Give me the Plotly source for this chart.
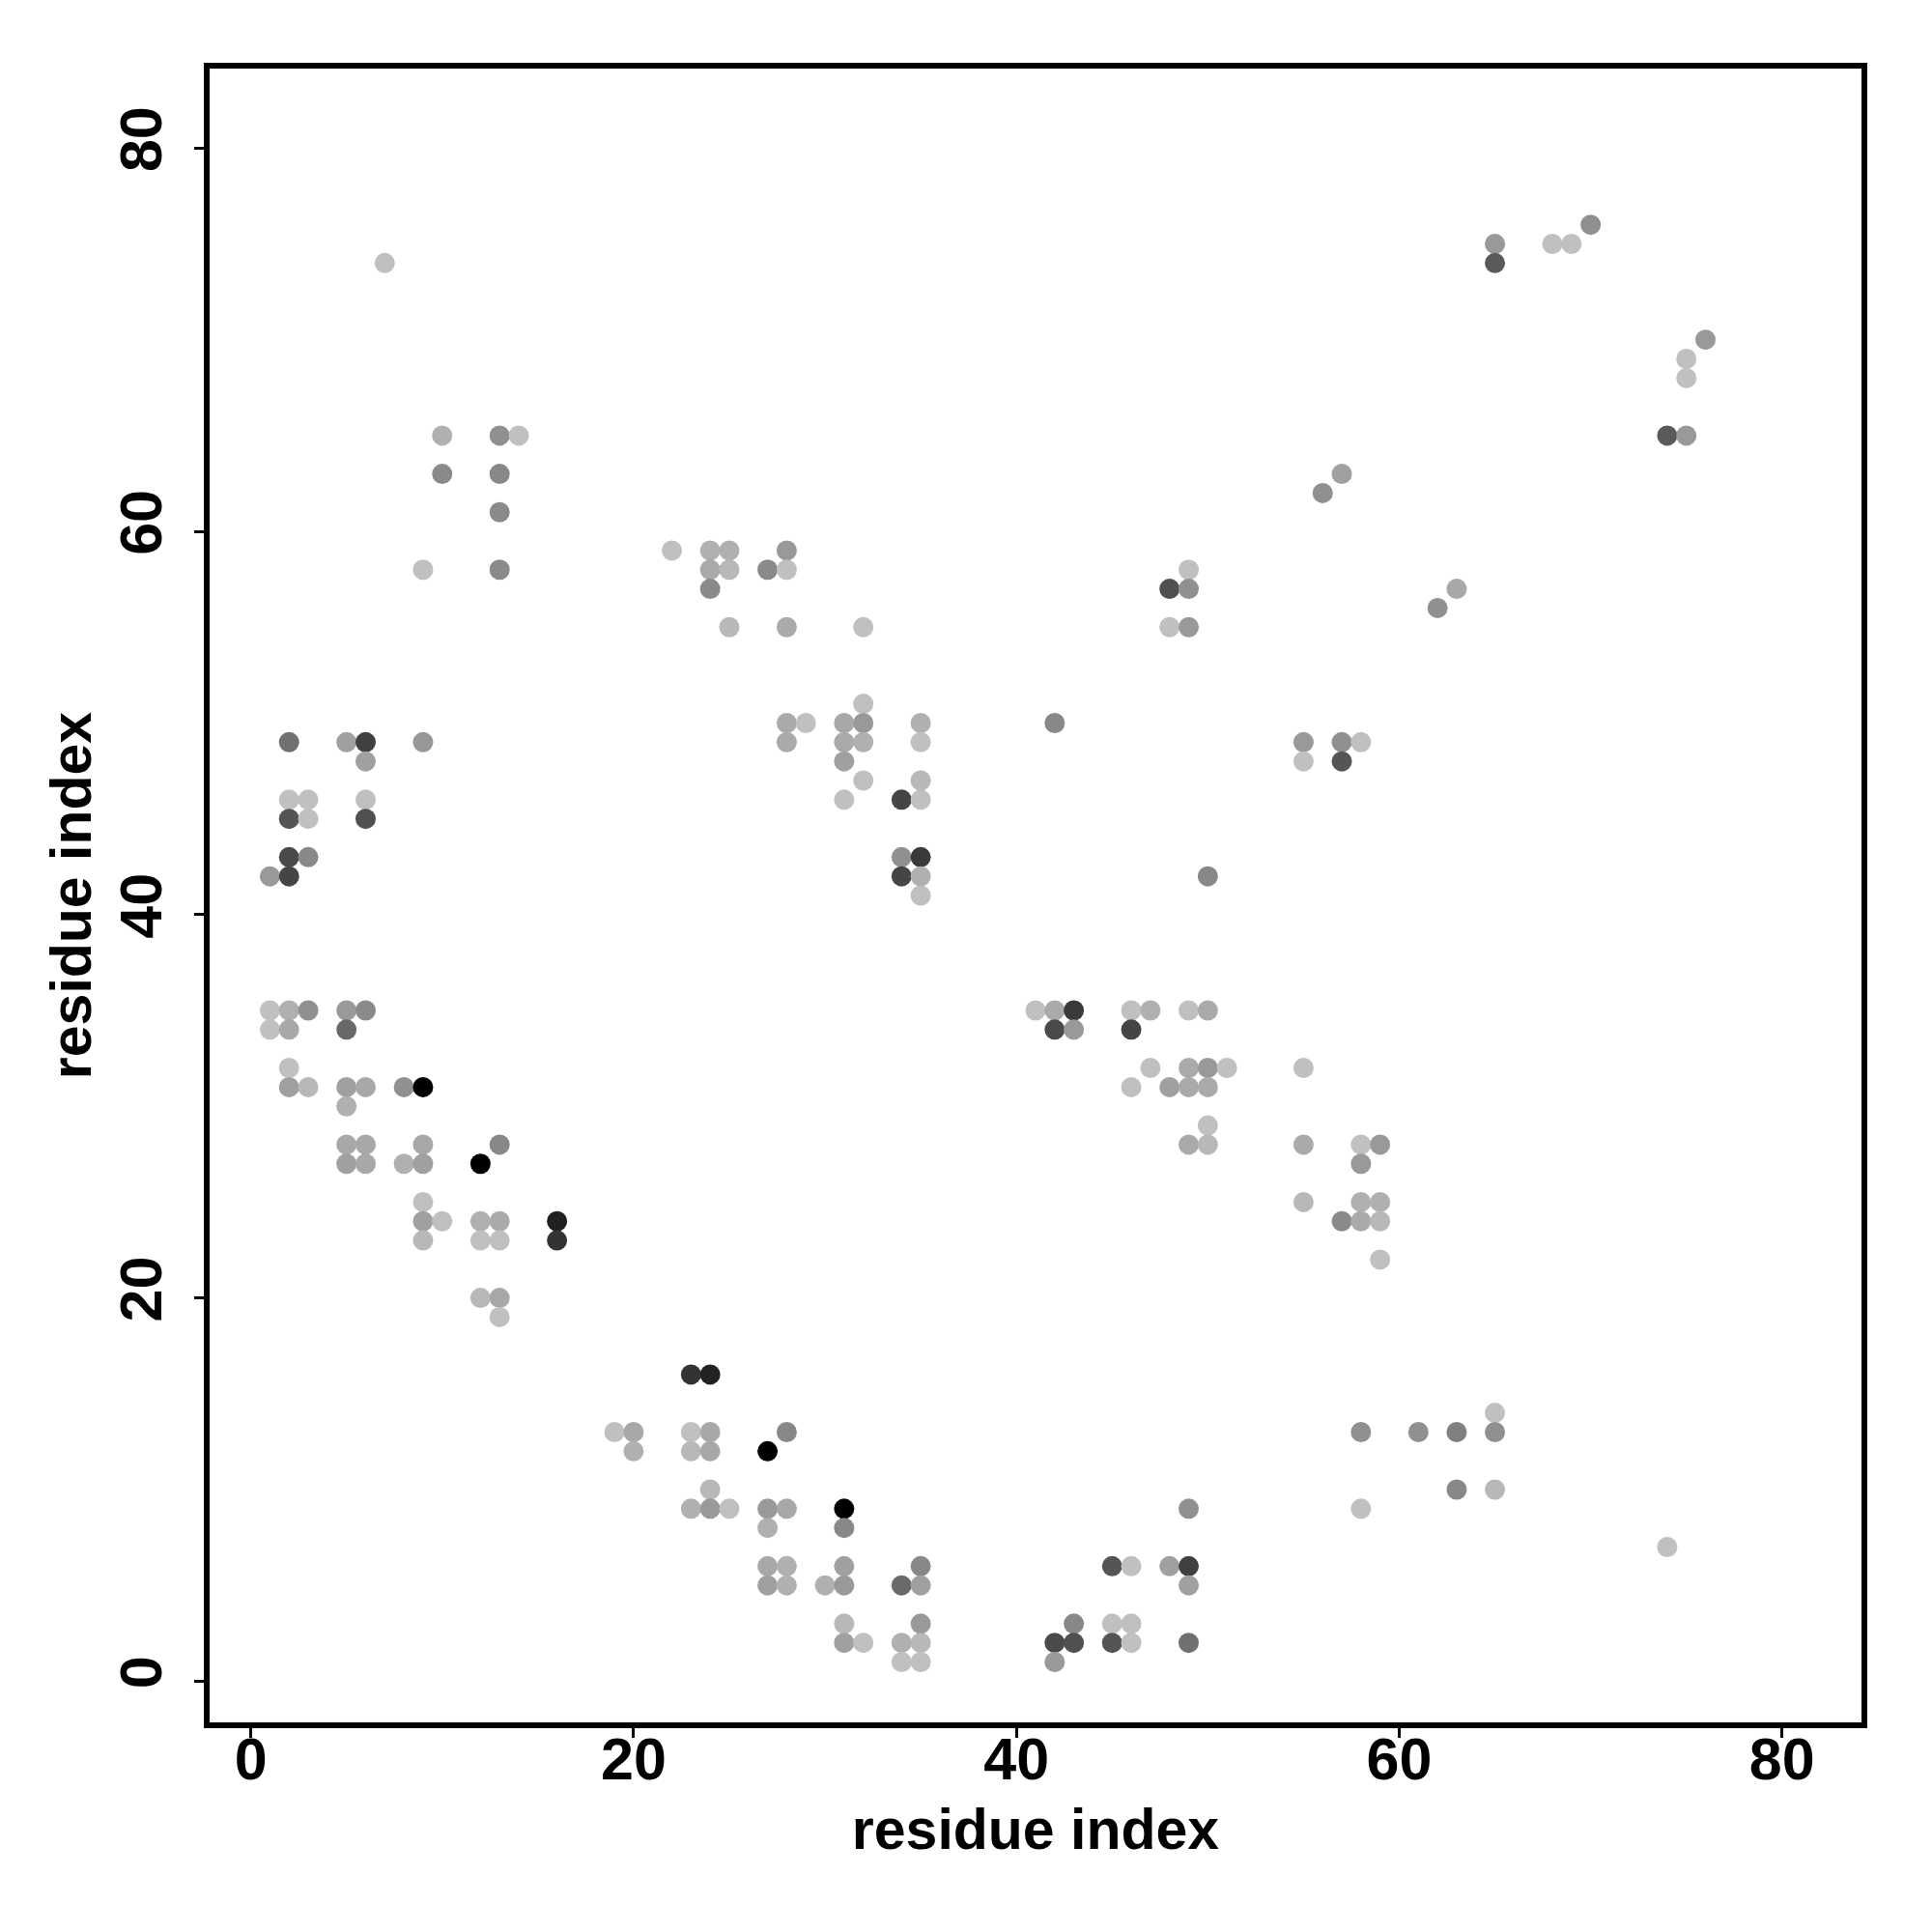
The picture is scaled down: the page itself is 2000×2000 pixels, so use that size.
import plotly.graph_objects as go

# (x residue, y residue, grey level 0-255)
res_i = [
    1, 1, 1,
    2, 2, 2, 2, 2, 2, 2, 2, 2,
    3, 3, 3, 3, 3,
    5, 5, 5, 5, 5, 5, 5,
    6, 6, 6, 6, 6, 6, 6, 6,
    7,
    8, 8,
    9, 9, 9, 9, 9, 9, 9, 9,
    10, 10, 10,
    12, 12, 12, 12,
    13, 13, 13, 13, 13, 13, 13, 13, 13,
    14,
    16, 16,
    19,
    20, 20,
    22,
    23, 23, 23, 23,
    24, 24, 24, 24, 24, 24, 24, 24,
    25, 25, 25, 25,
    27, 27, 27, 27, 27, 27,
    28, 28, 28, 28, 28, 28, 28, 28, 28,
    29,
    30,
    31, 31, 31, 31, 31, 31, 31, 31, 31, 31,
    32, 32, 32, 32, 32, 32,
    34, 34, 34, 34, 34, 34,
    35, 35, 35, 35, 35, 35, 35, 35, 35, 35, 35, 35,
    41,
    42, 42, 42, 42, 42,
    43, 43, 43, 43,
    45, 45, 45,
    46, 46, 46, 46, 46, 46,
    47, 47,
    48, 48, 48, 48,
    49, 49, 49, 49, 49, 49, 49, 49, 49, 49, 49,
    50, 50, 50, 50, 50, 50,
    51,
    55, 55, 55, 55, 55,
    56,
    57, 57, 57, 57,
    58, 58, 58, 58, 58, 58, 58,
    59, 59, 59, 59,
    61,
    62,
    63, 63, 63,
    65, 65, 65, 65, 65,
    68,
    69,
    70,
    74, 74,
    75, 75, 75,
    76,
]

res_j = [
    42, 35, 34,
    49, 46, 45, 43, 42, 35, 34, 32, 31,
    46, 45, 43, 35, 31,
    49, 35, 34, 31, 30, 28, 27,
    49, 48, 46, 45, 35, 31, 28, 27,
    74,
    31, 27,
    58, 49, 31, 28, 27, 25, 24, 23,
    65, 63, 24,
    27, 24, 23, 20,
    65, 63, 61, 58, 28, 24, 23, 20, 19,
    65,
    24, 23,
    13,
    13, 12,
    59,
    16, 13, 12, 9,
    59, 58, 57, 16, 13, 12, 10, 9,
    59, 58, 55, 9,
    58, 12, 9, 8, 6, 5,
    59, 58, 55, 50, 49, 13, 9, 6, 5,
    50,
    5,
    50, 49, 48, 46, 9, 8, 6, 5, 3, 2,
    55, 51, 50, 49, 47, 2,
    46, 43, 42, 5, 2, 1,
    50, 49, 47, 46, 43, 42, 41, 6, 5, 3, 2, 1,
    35,
    50, 35, 34, 2, 1,
    35, 34, 3, 2,
    6, 3, 2,
    35, 34, 31, 6, 3, 2,
    35, 32,
    57, 55, 31, 6,
    58, 57, 55, 35, 32, 31, 28, 9, 6, 5, 2,
    42, 35, 32, 31, 29, 28,
    32,
    49, 48, 32, 28, 25,
    62,
    63, 49, 48, 24,
    49, 28, 27, 25, 24, 13, 9,
    28, 25, 24, 22,
    13,
    56,
    57, 13, 10,
    75, 74, 14, 13, 10,
    75,
    75,
    76,
    65, 7,
    69, 68, 65,
    70,
]

grey = [
    0x99, 0xc0, 0xc0,
    0x70, 0xc0, 0x55, 0x4a, 0x45, 0xb0, 0xa8, 0xc0, 0xa0,
    0xc0, 0xc0, 0x88, 0x90, 0xb8,
    0xa0, 0x99, 0x68, 0xa0, 0xb0, 0xa8, 0xa0,
    0x40, 0xa0, 0xc0, 0x50, 0x8a, 0xa8, 0xa8, 0xa8,
    0xc0,
    0x90, 0xb0,
    0xc0, 0x98, 0x00, 0xa8, 0xa0, 0xc0, 0xa0, 0xb8,
    0xb0, 0x8a, 0xc0,
    0x00, 0xb0, 0xc0, 0xb8,
    0x90, 0x88, 0x8a, 0x8a, 0x88, 0xaa, 0xc0, 0xa8, 0xc0,
    0xc0,
    0x20, 0x33,
    0xc0,
    0xa8, 0xb0,
    0xc0,
    0x33, 0xc0, 0xb8, 0xb0,
    0xb0, 0xaa, 0x8a, 0x22, 0xa8, 0xa8, 0xb8, 0x99,
    0xb0, 0xb8, 0xb8, 0xc0,
    0x8a, 0x00, 0x99, 0xb0, 0xa8, 0xa0,
    0x99, 0xc0, 0xaa, 0xaa, 0xaa, 0x88, 0xa8, 0xb0, 0xb0,
    0xc0,
    0xb0,
    0xa8, 0xaa, 0xa0, 0xc0, 0x00, 0x88, 0xa0, 0x99, 0xb8, 0xa0,
    0xc0, 0xc0, 0x99, 0xb0, 0xc0, 0xc0,
    0x45, 0x90, 0x45, 0x6a, 0xb0, 0xc0,
    0xb0, 0xc0, 0xb8, 0xc0, 0x3a, 0xb0, 0xc0, 0x88, 0xa0, 0x99, 0xb8, 0xc0,
    0xc0,
    0x88, 0xaa, 0x4a, 0x4a, 0x99,
    0x3a, 0x99, 0x88, 0x50,
    0x55, 0xc0, 0x55,
    0xc0, 0x45, 0xc0, 0xc0, 0xc0, 0xc0,
    0xb0, 0xc0,
    0x50, 0xc0, 0xa0, 0xa0,
    0xc0, 0x90, 0x99, 0xc0, 0xaa, 0xaa, 0xaa, 0x90, 0x40, 0xa0, 0x70,
    0x88, 0xaa, 0x99, 0xaa, 0xc0, 0xb8,
    0xc0,
    0x99, 0xc0, 0xc0, 0xaa, 0xb8,
    0x90,
    0xa0, 0x90, 0x55, 0x8a,
    0xc0, 0xc0, 0x99, 0xb0, 0xaa, 0x90, 0xc0,
    0x99, 0xb0, 0xb8, 0xc0,
    0x90,
    0x90,
    0xa8, 0x80, 0x88,
    0x99, 0x5a, 0xc0, 0x90, 0xb8,
    0xc0,
    0xc0,
    0x90,
    0x5a, 0xc0,
    0xc0, 0xc0, 0x99,
    0x99,
]

tick_vals = [0, 20, 40, 60, 80]
axis_title = "residue index"

colors = [f"rgb({g},{g},{g})" for g in grey]

fig = go.Figure(
    go.Scatter(
        x=res_i,
        y=res_j,
        mode="markers",
        marker=dict(size=21, color=colors, line=dict(width=0)),
        showlegend=False,
        hoverinfo="x+y",
    )
)

tick_font = dict(family="Liberation Sans, Arial, sans-serif", size=61, color="black", weight="bold")
title_font = dict(family="Liberation Sans, Arial, sans-serif", size=59, color="black", weight="bold")

common_axis = dict(
    range=[-2.15, 84.15],
    tickvals=tick_vals,
    ticktext=[str(v) for v in tick_vals],
    ticks="outside",
    ticklen=10,
    tickwidth=2.5,
    tickcolor="black",
    showline=True,
    mirror=True,
    linewidth=6,
    linecolor="black",
    showgrid=False,
    zeroline=False,
    tickfont=tick_font,
    automargin=False,
)

fig.update_xaxes(
    **common_axis,
    ticklabelstandoff=-30,
    title=dict(text=axis_title, font=title_font, standoff=20),
)
fig.update_yaxes(
    **common_axis,
    tickangle=-90,
    ticklabelstandoff=10,
    title=dict(text=axis_title, font=title_font, standoff=0),
)

# the page body adds an 8 px offset, so margins are shifted to compensate
fig.update_layout(
    width=2000,
    height=2000,
    margin=dict(l=209, r=81, t=63, b=225, autoexpand=False),
    paper_bgcolor="white",
    plot_bgcolor="white",
)

fig.write_html("out.html")
